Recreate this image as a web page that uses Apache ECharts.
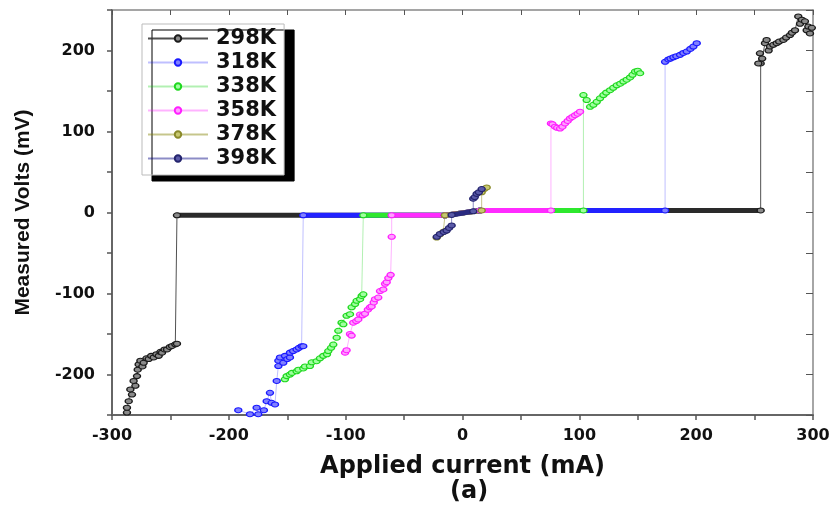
<!DOCTYPE html>
<html>
<head>
<meta charset="utf-8">
<title>Measured Volts vs Applied current</title>
<script src="https://cdn.jsdelivr.net/npm/echarts@6/dist/echarts.min.js"></script>
<style>
  html, body { margin: 0; padding: 0; background: #fff; }
  #chart { width: 833px; height: 512px; }
</style>
</head>
<body>
<div id="chart"></div>
<script>
// legend names
const temps = ['298K', '318K', '338K', '358K', '378K', '398K']
// labelled ticks
const xTicks = [-300, -200, -100, 0, 100, 200, 300]
const yTicks = [-200, -100, 0, 100, 200]

// [current mA, volts mV]
// low = negative branch, flat = the near-zero run, high = positive branch
const low298 = [[-287.2, -247], [-287.2, -241], [-285.7, -233], [-284.3, -218.5], [-282.9, -224.7], [-281.5, -208], [-280, -214], [-278.6, -202], [-278, -194], [-277.2, -187.5], [-275.7, -183], [-274, -190], [-272.9, -185.5], [-270.5, -180], [-268.6, -181], [-266.5, -177], [-264.3, -179], [-262, -175], [-260, -177], [-258.5, -172], [-257.2, -173], [-255, -169], [-252.9, -169], [-250.5, -166], [-248.6, -164.8], [-245.8, -162.7], [-244.4, -162]]
const flat298 = [[-244.4, -3.5], [-15, -3.5], [15, 2.5], [255.2, 2.5]]
const high298 = [[255.2, 184], [253.2, 184], [254.6, 196.6], [256.5, 190], [258.9, 209], [260.3, 213], [262, 200], [263.2, 205], [266, 207], [268.9, 209], [271, 211], [274.6, 213], [277, 216], [280.3, 219], [282, 222], [284.6, 225], [287.4, 242], [288.9, 233], [290.5, 238], [293.1, 236], [294.6, 225], [296, 229.6], [297.4, 221], [299, 228]]

const low318 = [[-191.9, -244], [-181.9, -249], [-176.2, -241], [-174.8, -249], [-170, -244], [-167.6, -233], [-164.8, -222.6], [-163.4, -235], [-160.5, -237], [-159, -208], [-157.6, -189.6], [-157.6, -183], [-156.2, -179], [-153.4, -185.5], [-152, -177], [-150, -181], [-147.7, -179], [-147.7, -173], [-145, -171], [-142, -169], [-140, -167], [-137.7, -165], [-136.3, -165]]
const flat318 = [[-136.3, -3.5], [-15, -3.5], [15, 2.5], [173.4, 2.5]]
const high318 = [[173.4, 186], [176.2, 189], [178, 190], [180.5, 191.6], [183, 193], [186.2, 194.6], [189, 197], [191.9, 198.7], [195, 202], [197.6, 204.9], [200.5, 209]]

const low338 = [[-152, -206], [-150.5, -202], [-147.7, -200], [-146, -198], [-142, -196], [-140.5, -194], [-136.3, -192.5], [-134.8, -190], [-130.6, -189.6], [-129, -185], [-124.9, -183.5], [-122, -180], [-119.2, -177], [-116, -175], [-114.9, -171], [-112.5, -167], [-110.6, -163], [-107.7, -154.5], [-106.3, -146], [-103.5, -136], [-102, -138], [-99.2, -127.6], [-96.3, -125.5], [-94.9, -117], [-92, -113], [-90.6, -109], [-87.7, -107], [-86.3, -103], [-84.9, -101]]
const flat338 = [[-84.9, -3.5], [-15, -3.5], [15, 2.5], [103.5, 2.5]]
const high338 = [[103.5, 145], [106.3, 138.8], [109.2, 130.5], [112, 133], [114.9, 136.7], [117.7, 141], [120.6, 145], [123, 148], [126.3, 151], [129, 154], [132, 157], [135, 159], [137.7, 161.6], [140.5, 164], [143.4, 166.8], [145.5, 170], [147.7, 174], [150, 175], [152, 172]]

const low358 = [[-100.5, -173], [-99.2, -170], [-96.3, -150], [-94.9, -152], [-93.5, -136], [-91, -134], [-89.2, -132], [-87.7, -126], [-85.5, -127], [-83.5, -125], [-81, -120], [-79.2, -117], [-77.8, -116], [-76, -111], [-74.9, -107], [-72.1, -105], [-70.6, -97], [-67.8, -95], [-66.3, -88], [-64.9, -86], [-63.5, -81], [-61.5, -77], [-60.6, -30]]
const flat358 = [[-60.6, -3.5], [-15, -3.5], [15, 2.5], [75.7, 2.5]]
const high358 = [[75.7, 110], [77, 109], [79.2, 105.9], [81, 104.5], [83.5, 103.7], [85.5, 106], [87.7, 110], [90, 113], [92, 116.1], [94, 118], [96.3, 120.2], [98.5, 122], [100.6, 124.4]]

const low378 = [[-22.1, -31], [-19.3, -27], [-16.5, -24], [-15, -23]]
const flat378 = [[-15, -3.5], [16.4, 2.5]]
const high378 = [[16.4, 25], [18.5, 29], [20.7, 31]]

const low398 = [[-22, -30], [-19.3, -26.4], [-16, -24], [-13.6, -22.3], [-11.5, -19], [-9.3, -16]]
const flat398 = [[-9.3, -3], [9.2, 1.5]]
const high398 = [[9.2, 17], [10.5, 19], [12.1, 23], [14, 25], [16.4, 29]]

const branches = [
  [low298, flat298, high298],
  [low318, flat318, high318],
  [low338, flat338, high338],
  [low358, flat358, high358],
  [low378, flat378, high378],
  [low398, flat398, high398]
]

// marker edge, marker fill, line colour, line opacity, band colour
const looks = [
  ['#1a1a1a', '#8a8a8a', '#333333', 0.85, '#2a2a2a'],
  ['#1a1aff', '#8080ff', '#0000ff', 0.25, '#2222ff'],
  ['#1fd81f', '#a0ffa0', '#00cc00', 0.3, '#2ee82e'],
  ['#ff1fff', '#ffa0ff', '#ff00ff', 0.3, '#ff2bff'],
  ['#8a8a2a', '#c8c870', '#808000', 0.45, '#8a8a2a'],
  ['#24246e', '#5a5aa8', '#000080', 0.45, '#2a2a80']
]

const chart = echarts.init(document.getElementById('chart'))

const tickFont = { fontFamily: 'DejaVu Sans', fontWeight: 'bold', fontSize: 16, color: '#111' }

const series = []
temps.forEach((name, i) => {
  const [low, flat, high] = branches[i]
  const [edge, fill, line, op] = looks[i]
  series.push({
    name: name,
    type: 'line',
    data: low.concat(flat, high),
    symbol: 'circle',
    symbolSize: [7, 5],
    itemStyle: { color: fill, borderColor: edge, borderWidth: 1.2 },
    lineStyle: { color: line, width: 1, opacity: op }
  })
})
// the dense near-zero runs show as thick bands
temps.forEach((name, i) => {
  series.push({
    name: name,
    type: 'line',
    data: branches[i][1],
    symbol: 'none',
    lineStyle: { color: looks[i][4], width: 5 }
  })
})

const option = {
  animation: false,
  backgroundColor: '#fff',
  grid: { left: 112, right: 20, top: 10, bottom: 97 },
  legend: {
    data: temps,
    orient: 'vertical',
    left: 142,
    top: 24,
    padding: [4, 8, 6, 5],
    itemWidth: 60,
    itemHeight: 8,
    itemGap: 3,
    backgroundColor: '#fff',
    borderColor: '#bbb',
    borderWidth: 1,
    shadowColor: '#000',
    shadowBlur: 0,
    shadowOffsetX: 10,
    shadowOffsetY: 6,
    textStyle: { fontFamily: 'DejaVu Sans', fontWeight: 'bold', fontSize: 21, color: '#111', padding: [0, 0, 0, 3] }
  },
  xAxis: [
    {
      type: 'value', min: -300, max: 300, interval: 50,
      name: 'Applied current (mA)', nameLocation: 'middle', nameGap: 40,
      nameTextStyle: { fontFamily: 'DejaVu Sans', fontWeight: 'bold', fontSize: 24, color: '#111' },
      axisLine: { onZero: false, lineStyle: { color: '#666', width: 2 } },
      axisTick: { inside: false, length: 5, lineStyle: { color: '#555', width: 1.5 } },
      axisLabel: Object.assign({ margin: 13, formatter: v => xTicks.includes(v) ? v : '' }, tickFont),
      splitLine: { show: false }
    },
    {
      type: 'value', min: -300, max: 300, interval: 50, position: 'top',
      axisLine: { onZero: false, lineStyle: { color: '#888', width: 1.5 } },
      axisTick: { inside: true, length: 5, lineStyle: { color: '#555' } },
      axisLabel: { show: false },
      splitLine: { show: false }
    }
  ],
  yAxis: [
    {
      type: 'value', min: -250, max: 250, interval: 50,
      name: 'Measured Volts (mV)', nameLocation: 'middle', nameGap: 78,
      nameTextStyle: { fontFamily: 'Liberation Sans', fontWeight: 'bold', fontSize: 21, color: '#111' },
      axisLine: { onZero: false, lineStyle: { color: '#666', width: 2 } },
      axisTick: { inside: false, length: 5, lineStyle: { color: '#555', width: 1.5 } },
      axisLabel: Object.assign({ margin: 17, formatter: v => yTicks.includes(v) ? v : '' }, tickFont),
      splitLine: { show: false }
    },
    {
      type: 'value', min: -250, max: 250, interval: 50, position: 'right',
      axisLine: { onZero: false, lineStyle: { color: '#888', width: 1.5 } },
      axisTick: { inside: true, length: 7, lineStyle: { color: '#555' } },
      axisLabel: { show: false },
      splitLine: { show: false }
    }
  ],
  graphic: [
    {
      type: 'text', left: 450, top: 480,
      style: { text: '(a)', font: 'bold 24px "DejaVu Sans"', fill: '#111' }
    }
  ],
  series: series
}

chart.setOption(option)
</script>
</body>
</html>
